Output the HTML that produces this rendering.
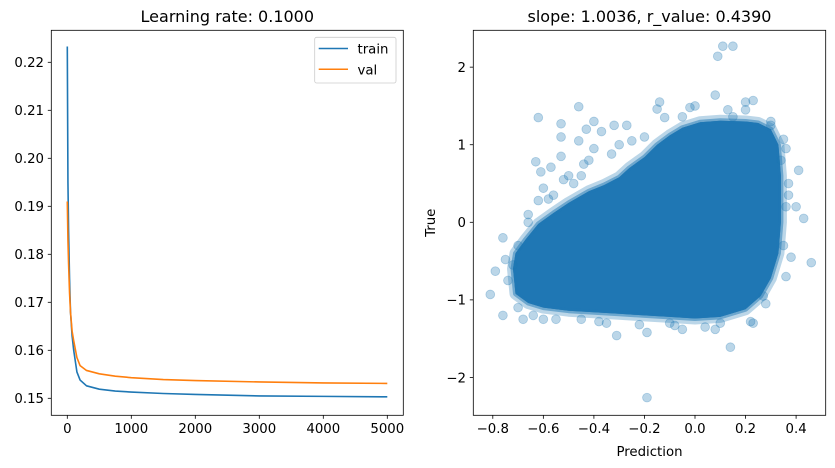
<!DOCTYPE html>
<html><head><meta charset="utf-8"><style>
body{margin:0;background:#fff}
svg{display:block;font-family:"DejaVu Sans","Liberation Sans",sans-serif}
</style></head><body>
<svg id="fig" width="835" height="468" viewBox="0 0 835 468">
<rect width="835" height="468" fill="#fff"/>
<g id="left"></g>
<g id="right"></g>
</svg>
<script>
const epochs=[0,10,20,35,50,75,100,150,200,300,500,750,1000,1500,2000,3000,4000,5000];
const trainLoss=[0.2233,0.195,0.185,0.175,0.168,0.163,0.160,0.1555,0.1538,0.1526,0.1519,0.1515,0.1513,0.1510,0.1508,0.1505,0.1504,0.1503];
const valLoss=[0.191,0.183,0.178,0.172,0.168,0.164,0.162,0.1585,0.1568,0.1558,0.1551,0.1546,0.1543,0.1539,0.1537,0.1534,0.1532,0.1531];
const xTicksL=[0,1000,2000,3000,4000,5000];
const yTicksL=[0.15,0.16,0.17,0.18,0.19,0.20,0.21,0.22];
const xTicksR=[-0.8,-0.6,-0.4,-0.2,0.0,0.2,0.4];
const yTicksR=[-2,-1,0,1,2];
const blobHullX=[-0.72,-0.71,-0.66,-0.6,-0.5,-0.4,-0.3,-0.2,-0.1,0,0.1,0.2,0.26,0.3,0.33,0.34,0.34,0.33,0.3,0.25,0.2,0.1,0.02,-0.05,-0.1,-0.15,-0.2,-0.26,-0.3,-0.36,-0.42,-0.5,-0.56,-0.62,-0.67,-0.71];
const blobHullY=[-0.6,-0.92,-1.04,-1.1,-1.14,-1.16,-1.18,-1.2,-1.22,-1.24,-1.22,-1.12,-0.95,-0.72,-0.4,0.0,0.6,1.0,1.2,1.28,1.3,1.31,1.29,1.22,1.12,1.0,0.84,0.7,0.58,0.48,0.4,0.25,0.12,-0.02,-0.22,-0.4];
const outX=[0.11,0.15,0.09,0.08,0.23,0.2,-0.14,-0.46,-0.62,-0.53,-0.53,-0.46,-0.4,-0.43,-0.37,-0.32,-0.27,-0.63,-0.61,-0.57,-0.53,-0.6,-0.62,-0.76,-0.75,-0.81,-0.79,-0.76,-0.68,-0.31,-0.19,-0.19,0.14,0.46,0.43,0.41,0.4,0.37,0.36,0.35,0.38,0.27,0.23,-0.05,0.04,0.08,-0.4,-0.42,-0.3,-0.25,0.0,-0.02,-0.15,-0.12,-0.5,-0.48,-0.56,-0.66,-0.7,0.3,0.34,0.35,0.2,-0.1,-0.35,-0.45,0.13,-0.6,-0.64,-0.72,-0.74,-0.7,-0.55,-0.38,-0.22,-0.08,0.1,0.22,0.28,0.36,0.36,0.37,0.3,0.15,-0.05,-0.2,-0.33,-0.45,-0.58,-0.66,-0.52,-0.44];
const outY=[2.27,2.27,2.14,1.64,1.57,1.55,1.55,1.49,1.35,1.27,1.1,1.05,1.3,1.2,1.17,1.25,1.25,0.78,0.65,0.71,0.85,0.44,0.28,-0.2,-0.48,-0.93,-0.63,-1.2,-1.25,-1.46,-1.42,-2.26,-1.61,-0.52,0.05,0.67,0.2,0.35,0.95,1.07,-0.45,-0.95,-1.3,-1.38,-1.35,-1.38,0.95,0.8,1.0,1.05,1.5,1.48,1.46,1.35,0.6,0.5,0.35,0.1,-0.3,1.25,0.8,-0.3,1.45,-1.3,-1.3,-1.25,1.45,-1.25,-1.2,-0.55,-0.75,-1.1,-1.25,-1.28,-1.32,-1.33,-1.3,-1.28,-1.05,-0.7,0.2,0.5,1.3,1.36,1.36,1.1,0.88,0.6,0.3,0.0,0.55,0.75];

const NS='http://www.w3.org/2000/svg';
function mk(parent,tag,attrs,text){const e=document.createElementNS(NS,tag);for(const k in attrs)e.setAttribute(k,attrs[k]);if(text!==undefined)e.textContent=text;parent.appendChild(e);return e;}
function fmtMinus(s){return s.replace('-','\u2212');}

// LEFT
const L=document.getElementById('left');
const lx=v=>67.3+(v-0)*(320/5000);
const ly=v=>398.3-(v-0.15)*(336/0.07);
function axesFrame(g,x0,y0,x1,y1){const r=mk(g,'rect',{x:x0,y:y0,width:x1-x0,height:y1-y0,fill:'none',stroke:'#000','stroke-width':0.8});}
function polyline(g,xs,ys,fx,fy,color,name){const pts=xs.map((x,i)=>fx(x).toFixed(2)+','+fy(ys[i]).toFixed(2)).join(' ');const p=mk(g,'polyline',{points:pts,fill:'none',stroke:color,'stroke-width':1.6,'stroke-linejoin':'round'});}
polyline(L,epochs,trainLoss,lx,ly,'#1f77b4','train-line');
polyline(L,epochs,valLoss,lx,ly,'#ff7f0e','val-line');
axesFrame(L,51.3,30.3,403.3,415.3);
xTicksL.forEach(t=>{const x=lx(t);mk(L,'line',{x1:x,x2:x,y1:415.3,y2:418.8,stroke:'#000','stroke-width':0.8});const tx=mk(L,'text',{x:x,y:433,'font-size':13.3,'text-anchor':'middle'},String(t));});
yTicksL.forEach(t=>{const y=ly(t);mk(L,'line',{x1:47.8,x2:51.3,y1:y,y2:y,stroke:'#000','stroke-width':0.8});const tx=mk(L,'text',{x:44,y:y+4.8,'font-size':13.3,'text-anchor':'end'},t.toFixed(2));});
const t1=mk(L,'text',{x:227.3,y:22,'font-size':16,'text-anchor':'middle'},'Learning rate: 0.1000');

const lg=mk(L,'g',{});

mk(lg,'rect',{x:314.7,y:37.3,width:81.3,height:45.7,rx:2,fill:'#fff','fill-opacity':0.8,stroke:'#ccc','stroke-width':0.8});
mk(lg,'line',{x1:318.7,x2:348,y1:48.5,y2:48.5,stroke:'#1f77b4','stroke-width':1.5});
mk(lg,'line',{x1:318.7,x2:348,y1:69.3,y2:69.3,stroke:'#ff7f0e','stroke-width':1.5});
const le1=mk(lg,'text',{x:357.5,y:53.3,'font-size':13.3},'train');
const le2=mk(lg,'text',{x:357.5,y:74.3,'font-size':13.3},'val');

// RIGHT
const R=document.getElementById('right');
const rx=v=>695+v*(303.3/1.2);
const ry=v=>222.3-v*(310.3/4);
const defs=mk(R,'defs',{});
const cp=mk(defs,'clipPath',{id:'rc'});mk(cp,'rect',{x:473.3,y:30.3,width:352.4,height:385});
const pg=mk(R,'g',{'clip-path':'url(#rc)'});
const hp=blobHullX.map((x,i)=>rx(x).toFixed(1)+','+ry(blobHullY[i]).toFixed(1)).join(' ');
const halo=mk(pg,'polygon',{points:hp,fill:'#1f77b4',stroke:'#1f77b4','stroke-opacity':0.3,'stroke-width':12,'stroke-linejoin':'round'});

const core=mk(pg,'polygon',{points:hp,fill:'#1f77b4',stroke:'#1f77b4','stroke-opacity':0.5,'stroke-width':5,'stroke-linejoin':'round'});

outX.forEach((x,i)=>{const c=mk(pg,'circle',{cx:rx(x),cy:ry(outY[i]),r:4.4,fill:'#1f77b4','fill-opacity':0.3,stroke:'#1f77b4','stroke-opacity':0.3,'stroke-width':0.8});});
axesFrame(R,473.3,30.3,825.7,415.3);
xTicksR.forEach(t=>{const x=rx(t);mk(R,'line',{x1:x,x2:x,y1:415.3,y2:418.8,stroke:'#000','stroke-width':0.8});const tx=mk(R,'text',{x:x,y:433,'font-size':13.3,'text-anchor':'middle'},fmtMinus(t.toFixed(1)));});
yTicksR.forEach(t=>{const y=ry(t);mk(R,'line',{x1:469.8,x2:473.3,y1:y,y2:y,stroke:'#000','stroke-width':0.8});const tx=mk(R,'text',{x:466,y:y+4.8,'font-size':13.3,'text-anchor':'end'},fmtMinus(String(t)));});
const t2=mk(R,'text',{x:649.5,y:22,'font-size':16,'text-anchor':'middle'},'slope: 1.0036, r_value: 0.4390');

const xl=mk(R,'text',{x:649.5,y:456,'font-size':13.3,'text-anchor':'middle'},'Prediction');

const yl=mk(R,'text',{x:0,y:0,'font-size':13.3,'text-anchor':'middle',transform:'translate(435,222.8) rotate(-90)'},'True');

</script>
</body></html>
